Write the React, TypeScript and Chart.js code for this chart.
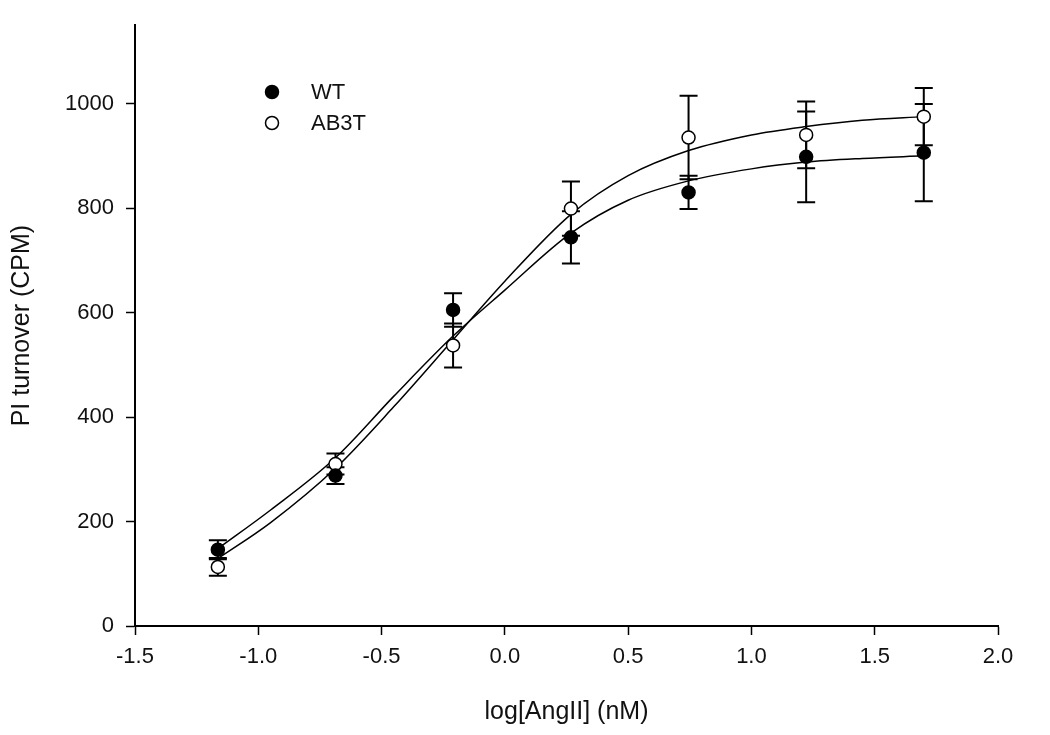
import React, { useEffect, useRef } from "react";
import { Chart, registerables } from "chart.js";

Chart.register(...registerables);

// ---- data ----
const doseLog = [-1.164, -0.687, -0.21, 0.268, 0.745, 1.222, 1.699];
const wtMean = [146, 288, 605, 744, 830, 898, 906];
const wtErr = [18, 16, 32, 50, 32, 87, 93];
const ab3tMean = [113, 310, 537, 799, 935, 940, 975];
const ab3tErr = [17, 20, 42, 52, 80, 64, 55];

// fitted curves
const curveX = [-1.164, -0.95, -0.687, -0.45, -0.21, 0.0, 0.268, 0.5, 0.745, 1.0, 1.222, 1.45, 1.699];
const wtCurve = [148, 222, 322, 440, 555, 643, 752, 815, 852, 875, 888, 895, 900];
const ab3tCurve = [129, 198, 302, 420, 548, 660, 788, 862, 910, 940, 956, 968, 975];

const xTicks = [-1.5, -1.0, -0.5, 0.0, 0.5, 1.0, 1.5, 2.0];
const yTicks = [0, 200, 400, 600, 800, 1000];
const seriesNames = ["WT", "AB3T"];

const FONT = "'Liberation Sans', Arial, sans-serif";
const INK = "#111";

export default function App() {
  const ref = useRef<HTMLCanvasElement>(null);

  useEffect(() => {
    document.body.style.margin = "0";
    const canvas = ref.current!;

    const errorBars = {
      id: "errorBars",
      beforeDatasetsDraw(chart: any) {
        const { ctx, scales } = chart;
        const xs = scales.x;
        const ys = scales.y;
        ctx.save();
        ctx.strokeStyle = "#000";
        ctx.lineWidth = 2;
        const draw = (means: number[], errs: number[]) => {
          means.forEach((m, i) => {
            const px = xs.getPixelForValue(doseLog[i]);
            const top = ys.getPixelForValue(m + errs[i]);
            const bot = ys.getPixelForValue(m - errs[i]);
            ctx.beginPath();
            ctx.moveTo(px, top);
            ctx.lineTo(px, bot);
            ctx.moveTo(px - 9, top);
            ctx.lineTo(px + 9, top);
            ctx.moveTo(px - 9, bot);
            ctx.lineTo(px + 9, bot);
            ctx.stroke();
          });
        };
        draw(wtMean, wtErr);
        draw(ab3tMean, ab3tErr);
        ctx.restore();
      },
    };

    const legendBox = {
      id: "legendBox",
      afterDraw(chart: any) {
        const { ctx } = chart;
        ctx.save();
        const items = [
          { y: 92, fill: "#000" },
          { y: 123, fill: "#fff" },
        ];
        items.forEach((it, i) => {
          ctx.beginPath();
          ctx.arc(272, it.y, 6.5, 0, Math.PI * 2);
          ctx.fillStyle = it.fill;
          ctx.fill();
          ctx.lineWidth = 1.5;
          ctx.strokeStyle = "#000";
          ctx.stroke();
          ctx.fillStyle = INK;
          ctx.font = `22px ${FONT}`;
          ctx.textAlign = "left";
          ctx.textBaseline = "middle";
          ctx.fillText(seriesNames[i], 311, it.y + 1);
        });
        ctx.restore();
      },
    };

    const chart = new Chart(canvas, {
      type: "line",
      data: {
        datasets: [
          {
            label: seriesNames[0],
            data: doseLog.map((x, i) => ({ x, y: wtMean[i] })),
            showLine: false,
            pointRadius: 6.5,
            pointStyle: "circle",
            pointBackgroundColor: "#000",
            pointBorderColor: "#000",
            pointBorderWidth: 1.5,
            order: 1,
          },
          {
            label: seriesNames[1],
            data: doseLog.map((x, i) => ({ x, y: ab3tMean[i] })),
            showLine: false,
            pointRadius: 6.5,
            pointStyle: "circle",
            pointBackgroundColor: "#fff",
            pointBorderColor: "#000",
            pointBorderWidth: 1.5,
            order: 1,
          },
          {
            label: "WT fit",
            data: curveX.map((x, i) => ({ x, y: wtCurve[i] })),
            borderColor: "#000",
            borderWidth: 1.5,
            pointRadius: 0,
            cubicInterpolationMode: "monotone",
            fill: false,
            order: 3,
          },
          {
            label: "AB3T fit",
            data: curveX.map((x, i) => ({ x, y: ab3tCurve[i] })),
            borderColor: "#000",
            borderWidth: 1.5,
            pointRadius: 0,
            cubicInterpolationMode: "monotone",
            fill: false,
            order: 3,
          },
        ],
      },
      options: {
        responsive: false,
        animation: false,
        devicePixelRatio: 1,
        layout: { padding: { left: 0, right: 52, top: 23, bottom: 0 } },
        plugins: {
          legend: { display: false },
          tooltip: { enabled: false },
        },
        scales: {
          x: {
            type: "linear",
            min: xTicks[0],
            max: xTicks[xTicks.length - 1],
            afterBuildTicks: (s: any) => {
              s.ticks = xTicks.map((v) => ({ value: v }));
            },
            ticks: {
              callback: (v: any) => Number(v).toFixed(1),
              font: { family: FONT, size: 22 },
              color: INK,
              padding: 9,
              maxRotation: 0,
              autoSkip: false,
            },
            grid: {
              display: true,
              drawOnChartArea: false,
              drawTicks: true,
              tickLength: 9,
              tickWidth: 1.5,
              tickColor: "#000",
              color: "#000",
            },
            border: { display: true, color: "#000", width: 2 },
            title: {
              display: true,
              text: "log[AngII] (nM)",
              font: { family: FONT, size: 25 },
              color: INK,
              padding: { top: 0, bottom: 8 },
            },
            afterFit: (s: any) => {
              s.height = 109;
            },
          },
          y: {
            type: "linear",
            min: 0,
            max: 1150,
            afterBuildTicks: (s: any) => {
              s.ticks = yTicks.map((v) => ({ value: v }));
            },
            ticks: {
              callback: (v: any) => String(v),
              font: { family: FONT, size: 22 },
              color: INK,
              padding: 12,
              autoSkip: false,
            },
            grid: {
              display: true,
              drawOnChartArea: false,
              drawTicks: true,
              tickLength: 9,
              tickWidth: 1.5,
              tickColor: "#000",
              color: "#000",
            },
            border: { display: true, color: "#000", width: 2 },
            title: {
              display: true,
              text: "PI turnover (CPM)",
              font: { family: FONT, size: 25 },
              color: INK,
              padding: { top: 7, bottom: 0 },
            },
            afterFit: (s: any) => {
              s.width = 135;
            },
          },
        },
      },
      plugins: [errorBars, legendBox],
    } as any);

    return () => chart.destroy();
  }, []);

  return (
    <div
      style={{
        position: "absolute",
        left: 0,
        top: 0,
        width: 1050,
        height: 735,
        background: "#fff",
      }}
    >
      <canvas
        ref={ref}
        width={1050}
        height={735}
        style={{ width: 1050, height: 735, display: "block" }}
      />
    </div>
  );
}
